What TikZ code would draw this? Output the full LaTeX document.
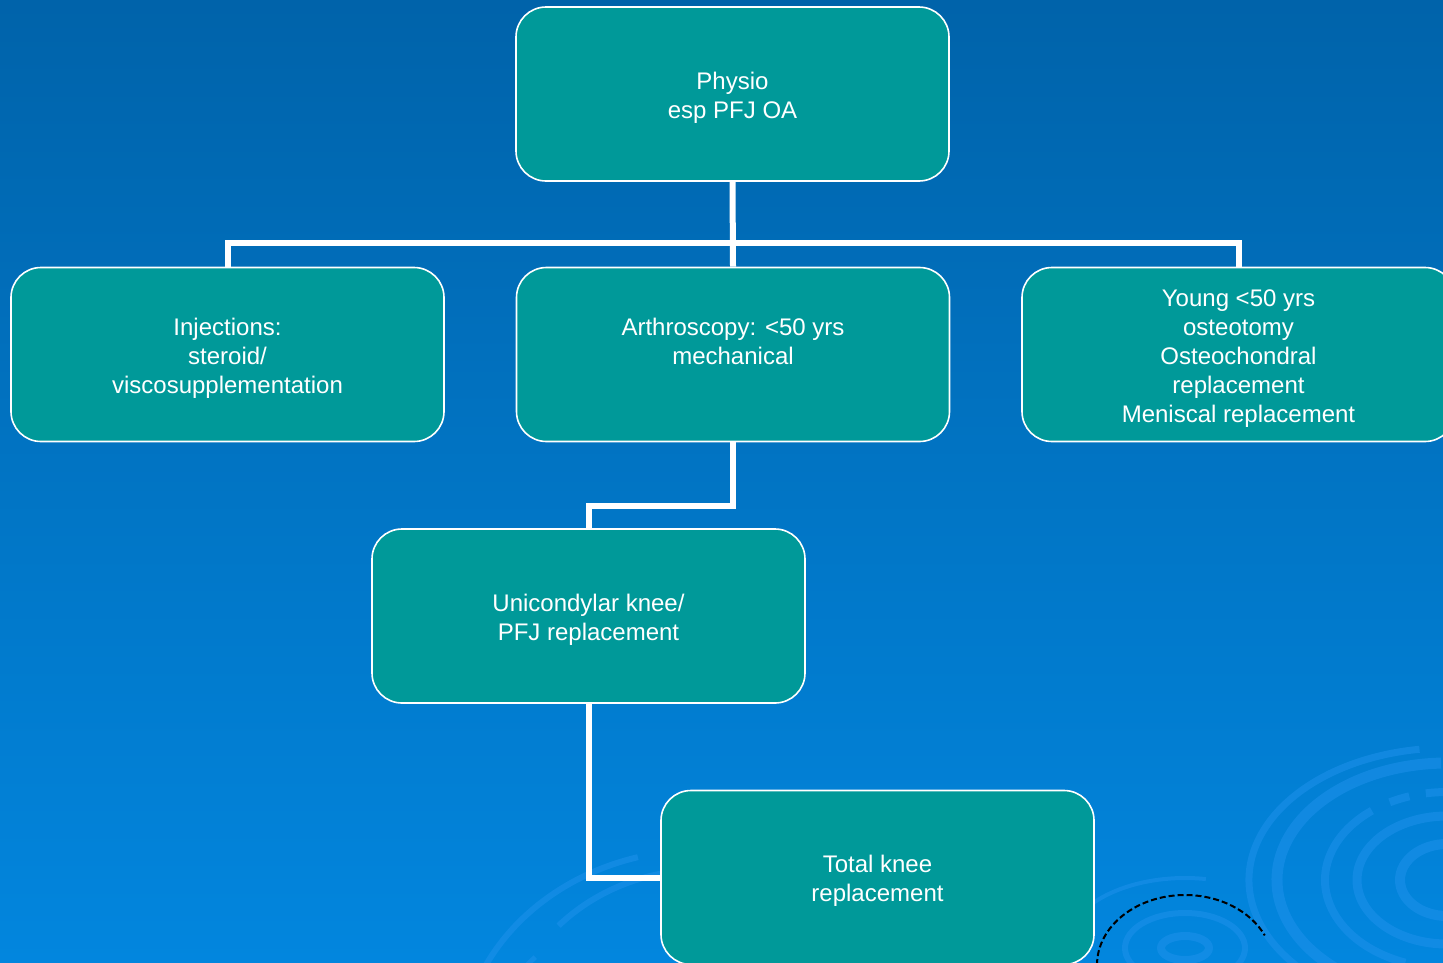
\documentclass[tikz,border=0pt]{standalone}
\usepackage{fontspec}
\setmainfont{Liberation Sans}
\usetikzlibrary{calc}
\definecolor{bgtop}{RGB}{0,99,170}
\definecolor{bgbot}{RGB}{2,134,222}
\definecolor{boxteal}{RGB}{0,153,153}
\definecolor{ringblue}{RGB}{30,145,235}
\newcommand{\lnst}{\rule[-5pt]{0pt}{29pt}}
\begin{document}
\begin{tikzpicture}[x=1pt,y=-1pt,
  box/.style={draw=white, line width=1.6pt, fill=boxteal, rounded corners=30pt,
    minimum width=433pt, minimum height=174pt, text=white, align=center,
    font=\fontsize{24}{29}\selectfont, inner sep=0pt},
  conn/.style={draw=white, line width=6pt},
  ringline/.style={draw=ringblue, opacity=0.55}]
\useasboundingbox (0,0) rectangle (1443,962);
\clip (0,0) rectangle (1443,962);
\shade[top color=bgtop, bottom color=bgbot] (0,0) rectangle (1443,962);
% decorative rings, right
\draw[ringline, line width=7pt] (1447,880) ++(250:198pt and 132pt) arc[start angle=250, end angle=98, x radius=198pt, y radius=132pt];
\draw[ringline, line width=11pt] (1447,880) ++(255:170pt and 117pt) arc[start angle=255, end angle=92, x radius=170pt, y radius=117pt];
\draw[ringline, line width=8pt] (1447,880) ++(250:122pt and 88pt) arc[start angle=250, end angle=128, x radius=122pt, y radius=88pt];
\draw[ringline, line width=8pt] (1447,880) ++(118:122pt and 88pt) arc[start angle=118, end angle=108, x radius=122pt, y radius=88pt];
\draw[ringline, line width=8pt] (1447,880) ++(100:122pt and 88pt) arc[start angle=100, end angle=80, x radius=122pt, y radius=88pt];
\draw[ringline, line width=9pt] (1447,880) ++(270:90pt and 64pt) arc[start angle=270, end angle=90, x radius=90pt, y radius=64pt];
\draw[ringline, line width=10pt] (1447,880) ++(270:47pt and 36pt) arc[start angle=270, end angle=90, x radius=47pt, y radius=36pt];
% decorative rings, bottom left
\draw[ringline, line width=6pt] (700,1060) ++(160:240pt and 210pt) arc[start angle=160, end angle=105, x radius=240pt, y radius=210pt];
\draw[ringline, line width=6pt] (700,1060) ++(135:200pt and 190pt) arc[start angle=135, end angle=100, x radius=200pt, y radius=190pt];
\draw[ringline, line width=5pt] (700,1060) ++(162:215pt and 160pt) arc[start angle=162, end angle=140, x radius=215pt, y radius=160pt];
% decorative rings, bottom middle
\draw[ringline, line width=6pt] (1185,948) ellipse[x radius=60pt, y radius=35pt];
\draw[ringline, line width=8pt] (1185,948) ellipse[x radius=24pt, y radius=12pt];
\draw[ringline, line width=4pt] (1185,948) ++(170:120pt and 70pt) arc[start angle=170, end angle=80, x radius=120pt, y radius=70pt];
% dashed arc
\draw[black, line width=2pt, dash pattern=on 6pt off 3pt] (1185,965) ++(180:88pt and 70pt) arc[start angle=180, end angle=25, x radius=88pt, y radius=70pt];

% boxes
\node[box] (phys) at (732.5,94) {\lnst Physio\\\lnst esp PFJ OA};
\node[box] (inj) at (227.5,354.5) {\lnst Injections:\\\lnst steroid/\\\lnst viscosupplementation};
\node[box] (arth) at (733,354.5) {\lnst Arthroscopy: <50 yrs\\\lnst mechanical\\\lnst};
\node[box] (young) at (1238.5,354.5) {\lnst Young <50 yrs\\\lnst osteotomy\\\lnst Osteochondral\\\lnst replacement\\\lnst Meniscal replacement};
\node[box] (uni) at (588.5,616) {\lnst Unicondylar knee/\\\lnst PFJ replacement};
\node[box] (tk) at (877.5,877.5) {\lnst Total knee\\\lnst replacement};

% connectors
\draw[conn] (phys.south) -- (arth.north);
\draw[conn] (inj.north) |- (phys.south |- 0,243) -| (young.north);
\draw[conn] (arth.south) -- (arth.south |- 0,506) -| (uni.north);
\draw[conn] (uni.south) |- (tk.west);
\end{tikzpicture}
\end{document}
